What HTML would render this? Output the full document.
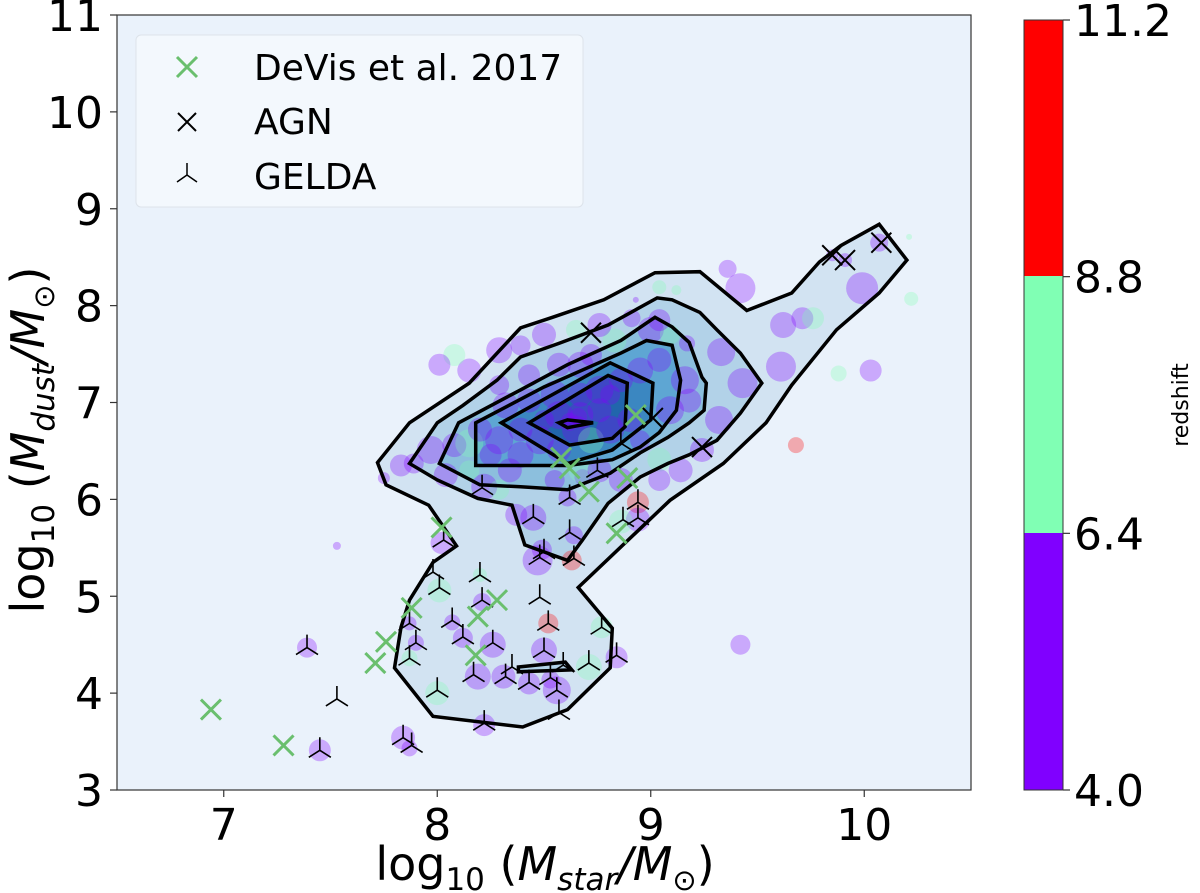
<!DOCTYPE html>
<html><head><meta charset="utf-8"><style>
body{margin:0;background:#fff}
svg{display:block;font-family:"DejaVu Sans","Liberation Sans",sans-serif}
</style></head><body>
<svg id="chart" width="1200" height="893" viewBox="0 0 1200 893" xmlns="http://www.w3.org/2000/svg">
<rect x="117" y="15" width="854" height="775" fill="#eaf2fb"/>
<g id="fills"></g>
<g id="circles"></g>
<g id="lines"></g>
<g id="markers"></g>
<rect x="117" y="15" width="854" height="775" fill="none" stroke="#333" stroke-width="1.2"/>
<g id="axes"></g>
<g>
<rect x="136" y="35" width="447" height="172" rx="5" fill="#f5f9fd" fill-opacity="0.85" stroke="#dde3ea"/>
<g><path d="M177 57 L197 77 M197 57 L177 77" stroke="#6abf6e" stroke-width="3"/><text x="254" y="80" font-size="36">DeVis et al. 2017</text></g>
<g><path d="M178 113 L196 131 M196 113 L178 131" stroke="#000" stroke-width="2"/><text x="254" y="134" font-size="36">AGN</text></g>
<g><path d="M187 163 L187 175 M187 175 L177 182 M187 175 L197 182" stroke="#000" stroke-width="1.5"/><text x="254" y="189" font-size="36">GELDA</text></g>
</g>
<g>
<rect x="1024" y="20" width="39" height="256" fill="#ff0000"/>
<rect x="1024" y="276" width="39" height="257" fill="#80ffb4"/>
<rect x="1024" y="533" width="39" height="257" fill="#8000ff"/>
<rect x="1024" y="20" width="39" height="770" fill="none" stroke="#333" stroke-width="1"/>
<g id="cbticks"></g>
<text x="1188" y="405" font-size="22" transform="rotate(-90 1188 405)" text-anchor="middle">redshift</text>
</g>
<text x="545" y="880" font-size="46" text-anchor="middle">log<tspan font-size="31" dy="10">10</tspan><tspan dy="-10"> (</tspan><tspan font-style="italic">M</tspan><tspan font-style="italic" font-size="31" dy="10">star</tspan><tspan dy="-10" font-style="italic">/M</tspan><tspan font-size="29" dy="10">⊙</tspan><tspan dy="-10">)</tspan></text>
<text x="0" y="0" font-size="46" text-anchor="middle" transform="translate(44 440) rotate(-90)">log<tspan font-size="31" dy="10">10</tspan><tspan dy="-10"> (</tspan><tspan font-style="italic">M</tspan><tspan font-style="italic" font-size="31" dy="10">dust</tspan><tspan dy="-10" font-style="italic">/M</tspan><tspan font-size="29" dy="10">⊙</tspan><tspan dy="-10">)</tspan></text>
</svg>
<script>
const xTicks=[7,8,9,10];
const yTicks=[3,4,5,6,7,8,9,10,11];
const cbTickLabels=["4.0","6.4","8.8","11.2"];
const cbTickValues=[4.0,6.4,8.8,11.2];
const devisX=[6.94,7.28,7.71,7.76,7.88,8.02,8.28,8.19,8.18,8.84,8.89,8.71,8.62,8.58,8.93];
const devisY=[3.83,3.46,4.31,4.53,4.88,5.71,4.96,4.79,4.39,5.65,6.22,6.08,6.32,6.43,6.87];
const agnX=[8.72,9.01,9.24,9.85,9.91,10.08];
const agnY=[7.72,6.84,6.54,8.52,8.47,8.65];
const geldaX=[8.21,8.45,8.62,8.62,8.50,8.48,8.94,8.94,8.87,8.64,8.03,7.98,8.01,8.20,8.48,8.21,8.07,7.87,8.12,7.90,7.87,8.26,8.52,8.50,8.17,8.32,8.35,8.43,8.53,8.59,8.56,8.71,8.77,8.84,8.00,8.22,8.57,7.84,7.88,7.45,7.53,7.39,8.75,8.86];
const geldaY=[6.12,5.82,6.02,5.66,5.46,5.40,5.97,5.81,5.79,5.39,5.58,5.25,5.09,5.22,4.99,4.96,4.75,4.72,4.58,4.52,4.36,4.52,4.72,4.44,4.19,4.17,4.27,4.11,4.16,4.29,4.03,4.31,4.68,4.39,4.03,3.69,3.80,3.54,3.46,3.41,3.94,4.47,6.30,6.58];
const ptX=[7.53,9.42,9.42,9.36,9.62,9.71,9.76,9.61,9.88,10.03,9.68,9.99,10.21,10.22,10.07,9.91,9.85,9.33,9.43,9.32,9.24,9.04,9.17,7.75,8.02,8.01,7.87,7.90,7.87,8.21,8.07,8.12,8.26,8.19,8.31,8.43,8.50,8.56,8.53,8.52,8.71,8.77,8.84,8.00,8.22,7.84,7.45,7.87,8.20,8.45,8.37,8.47,8.49,8.63,8.64,8.94,8.94,8.86,8.22,8.61,8.68,7.39,
7.83,7.89,7.97,8.08,8.04,8.15,8.20,8.29,8.39,8.48,8.57,8.65,8.72,8.81,8.90,8.95,8.32,8.43,8.55,8.67,8.76,8.86,8.95,9.04,9.00,9.09,8.83,8.72,8.57,8.43,8.29,8.15,8.08,8.01,8.29,8.39,8.50,8.65,8.76,8.91,9.04,9.12,8.93,9.16,9.18,9.09,9.04,9.14,8.57,8.67,8.76,8.50,8.39,8.25,8.15,8.67,8.76,8.55,8.86,9.04,8.29,8.34,8.67,8.81,8.62,8.66];
const ptY=[5.52,4.50,8.18,8.38,7.80,7.87,7.87,7.37,7.30,7.33,6.56,8.18,8.71,8.07,8.65,8.47,8.52,7.52,7.20,6.82,6.51,8.19,7.61,6.22,5.55,5.06,4.72,4.52,4.36,4.94,4.73,4.57,4.50,4.17,4.17,4.10,4.44,4.03,4.14,4.72,4.27,4.68,4.37,4.00,3.67,3.54,3.41,3.43,5.22,5.81,5.84,5.37,5.48,5.37,5.63,5.97,5.79,5.77,6.13,6.02,6.23,4.47,
6.35,6.37,6.51,6.56,6.25,6.58,6.72,6.61,6.46,6.61,6.51,6.72,6.61,6.72,6.82,6.61,6.97,7.02,7.08,7.08,7.13,7.23,7.33,7.44,7.75,7.70,7.64,7.49,7.39,7.28,7.18,7.33,7.49,7.39,7.54,7.59,7.70,7.75,7.80,7.87,7.85,8.16,8.06,7.23,7.02,6.92,6.41,6.30,6.87,6.87,6.92,6.82,6.72,6.46,6.30,6.30,6.30,6.20,6.20,6.20,6.10,6.30,7.39,7.08,6.80,6.85];
const ptSize=[4,10,15,9,13,11,11,15,8,11,8,16,3,7,9,7,6,14,15,14,12,7,8,6,11,12,7,8,8,9,8,10,13,13,12,11,13,14,9,10,13,11,11,12,11,12,11,8,7,13,11,15,10,10,9,11,12,12,13,9,8,10,
11,10,14,12,12,14,12,14,13,14,12,14,13,14,12,10,13,12,14,12,14,12,13,12,13,10,12,11,12,11,10,12,11,11,13,10,12,10,12,9,11,5,3,14,12,14,12,12,14,13,12,10,12,11,10,12,12,10,12,11,10,12,13,10,9,9];
const ptZ=[5.2,5.2,5.2,5.2,5.2,5.2,7.5,5.2,7.5,5.2,9.5,5.2,7.5,7.5,5.2,5.2,5.2,5.2,5.2,5.2,5.2,7.5,5.2,5.2,5.2,7.5,5.2,5.2,7.5,5.2,5.2,5.2,5.2,5.2,5.2,5.2,5.2,5.2,5.2,9.5,7.5,7.5,5.2,7.5,5.2,5.2,5.2,5.2,7.5,5.2,5.2,5.2,5.2,9.5,5.2,9.5,5.2,7.5,5.2,5.2,5.2,5.2,
5.2,5.2,5.2,5.2,5.2,7.5,5.2,5.2,5.2,5.2,5.2,5.2,7.5,5.2,5.2,5.2,5.2,5.2,5.2,5.2,5.2,5.2,5.2,5.2,5.2,7.5,7.5,5.2,5.2,5.2,5.2,5.2,7.5,5.2,5.2,5.2,5.2,7.5,5.2,5.2,5.2,7.5,5.2,5.2,5.2,5.2,7.5,5.2,5.2,5.2,5.2,5.2,5.2,5.2,7.5,7.5,5.2,5.2,5.2,5.2,7.5,5.2,5.2,5.2,5.2,5.2];
const contour1=[[7.72,6.38],[7.76,6.15],[7.96,5.94],[8.09,5.52],[7.98,5.35],[7.87,4.96],[7.83,4.68],[7.80,4.26],[7.98,3.76],[8.40,3.65],[8.61,3.83],[8.81,4.26],[8.82,4.67],[8.66,5.09],[9.09,5.99],[9.34,6.37],[9.54,6.79],[9.66,7.18],[9.87,7.75],[10.07,8.13],[10.20,8.47],[10.07,8.84],[9.89,8.62],[9.79,8.45],[9.66,8.13],[9.45,7.95],[9.23,8.35],[9.02,8.34],[8.78,8.06],[8.54,7.88],[8.39,7.77],[8.15,7.20],[7.87,6.79]];
const contour2=[[7.87,6.37],[8.00,6.79],[8.12,6.97],[8.28,7.23],[8.39,7.47],[8.57,7.61],[8.80,7.80],[9.03,8.08],[9.10,8.06],[9.23,7.93],[9.31,7.75],[9.42,7.51],[9.52,7.20],[9.42,6.89],[9.31,6.61],[9.18,6.46],[9.08,6.37],[8.95,6.23],[8.80,5.96],[8.68,5.58],[8.61,5.37],[8.41,5.53],[8.35,5.94],[8.19,6.01],[8.00,6.20]];
const contour3=[[8.01,6.37],[8.10,6.79],[8.39,7.13],[8.61,7.39],[8.86,7.64],[9.02,7.88],[9.10,7.78],[9.18,7.62],[9.24,7.26],[9.26,7.20],[9.25,6.92],[9.18,6.79],[9.08,6.64],[8.95,6.48],[8.81,6.27],[8.61,6.10],[8.39,6.13],[8.20,6.15]];
const contour4=[[8.18,6.79],[8.18,6.35],[8.61,6.35],[8.82,6.41],[8.95,6.54],[9.04,6.69],[9.12,6.92],[9.14,7.23],[9.10,7.59],[8.98,7.64],[8.86,7.51],[8.50,7.16]];
const contour5=[[8.30,6.79],[8.81,7.41],[9.01,7.20],[9.00,6.82],[8.82,6.51],[8.61,6.37]];
const contour6=[[8.43,6.79],[8.80,7.28],[8.89,7.20],[8.88,6.75],[8.82,6.63],[8.62,6.56]];
const contour7=[[8.57,6.79],[8.61,6.82],[8.73,6.79],[8.61,6.74]];
const contourBlob=[[8.38,4.27],[8.60,4.32],[8.63,4.24],[8.38,4.22]];

const NS="http://www.w3.org/2000/svg";
const X0=117,X1=971,Y0=790,Y1=15,XMIN=6.5,XMAX=10.5,YMIN=3,YMAX=11;
function sx(v){return X0+(v-XMIN)/(XMAX-XMIN)*(X1-X0);}
function sy(v){return Y0-(v-YMIN)/(YMAX-YMIN)*(Y0-Y1);}
function cbY(v){return 790-(v-4.0)/(11.2-4.0)*770;}
function mk(tag,attrs,parent){const e=document.createElementNS(NS,tag);for(const k in attrs)e.setAttribute(k,attrs[k]);parent.appendChild(e);return e;}
function colorFor(z){return z<6.4?"#8000ff":(z<8.8?"#80ffb4":"#ff0000");}
const axes=document.getElementById('axes');
xTicks.forEach(t=>{
  const l=mk('line',{x1:sx(t),x2:sx(t),y1:790,y2:797,stroke:'#333','stroke-width':1.2},axes);
  
  
  const tx=mk('text',{x:sx(t),y:840,'font-size':44,'text-anchor':'middle'},axes);tx.textContent=t;
  
  
});
yTicks.forEach(t=>{
  const l=mk('line',{x1:110,x2:117,y1:sy(t),y2:sy(t),stroke:'#333','stroke-width':1.2},axes);
  
  
  const tx=mk('text',{x:103,y:sy(t)+16,'font-size':44,'text-anchor':'end'},axes);tx.textContent=t;
  
  
});
const cbt=document.getElementById('cbticks');
cbTickValues.forEach((v,i)=>{
  const l=mk('line',{x1:1063,x2:1070,y1:cbY(v),y2:cbY(v),stroke:'#333','stroke-width':1.2},cbt);
  
  
  const tx=mk('text',{x:1074,y:cbY(v)+16,'font-size':44},cbt);tx.textContent=cbTickLabels[i];
  
  
});
function pts(arr){return arr.map(p=>sx(p[0]).toFixed(1)+','+sy(p[1]).toFixed(1)).join(' ');}
const fills=document.getElementById('fills'),lines=document.getElementById('lines');
const levels=[contour1,contour2,contour3,contour4,contour5,contour6,contour7];
const fillCols=['#d2e3f2','#b2d2e8','#8cbfdd','#5ea6d3','#3b87c1','#2166ac','#08519c'];
levels.forEach((c,i)=>{
  const f=mk('polygon',{points:pts(c),fill:fillCols[i]},fills);
  
  
});
const bf=mk('polygon',{points:pts(contourBlob),fill:fillCols[1]},fills);


const circ=document.getElementById('circles');
ptX.forEach((x,i)=>{
  const c=mk('circle',{cx:sx(x),cy:sy(ptY[i]),r:ptSize[i],fill:colorFor(ptZ[i]),'fill-opacity':0.3},circ);
  
  
});
levels.forEach((c,i)=>{
  const l=mk('polygon',{points:pts(c),fill:'none',stroke:'#000','stroke-width':3.5,'stroke-linejoin':'miter'},lines);
  
  
});
const bl=mk('polygon',{points:pts(contourBlob),fill:'none',stroke:'#000','stroke-width':3.5},lines);


const mg=document.getElementById('markers');
geldaX.forEach((x,i)=>{
  const cx=sx(x),cy=sy(geldaY[i]);
  const p=mk('path',{d:`M${cx} ${cy} L${cx} ${cy-13} M${cx} ${cy} L${cx-11} ${cy+7} M${cx} ${cy} L${cx+11} ${cy+7}`,stroke:'#000','stroke-width':1.6,fill:'none'},mg);
  
  
});
devisX.forEach((x,i)=>{
  const cx=sx(x),cy=sy(devisY[i]),h=10;
  const p=mk('path',{d:`M${cx-h} ${cy-h} L${cx+h} ${cy+h} M${cx+h} ${cy-h} L${cx-h} ${cy+h}`,stroke:'#6abf6e','stroke-width':3,fill:'none'},mg);
  
  
});
agnX.forEach((x,i)=>{
  const cx=sx(x),cy=sy(agnY[i]),h=10;
  const p=mk('path',{d:`M${cx-h} ${cy-h} L${cx+h} ${cy+h} M${cx+h} ${cy-h} L${cx-h} ${cy+h}`,stroke:'#000','stroke-width':2,fill:'none'},mg);
  
  
});
</script>
</body></html>
